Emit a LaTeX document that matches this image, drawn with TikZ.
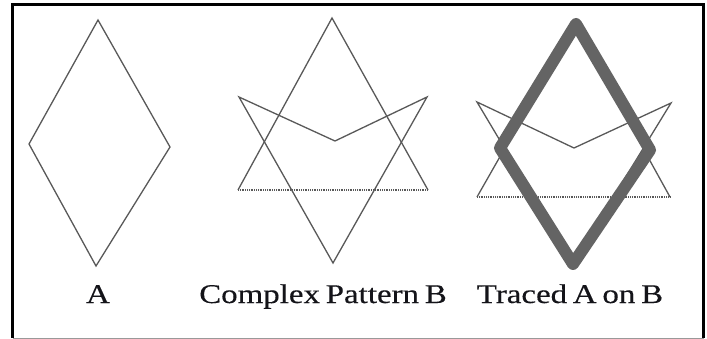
\documentclass[tikz,border=0pt]{standalone}
\usepackage{fontspec}
\setmainfont[FakeStretch=1.22,FakeBold=0.3,WordSpace={0.7}]{Liberation Serif}
\begin{document}
\begin{tikzpicture}[x=1pt,y=-1pt,
  thin line/.style={draw=black!65,line width=1.3pt,line join=miter},
  base line/.style={draw=black!65,line width=1.5pt,dash pattern=on 1pt off 0.8pt},
  traced/.style={draw={rgb,255:red,100;green,100;blue,100},line width=12pt,line join=round},
  caption/.style={anchor=base,inner sep=0pt,font=\fontsize{27}{30}\selectfont,text={rgb,255:red,20;green,20;blue,25}}]
\useasboundingbox (0,0) rectangle (707,339);
\fill[white] (0,0) rectangle (707,339);
% frame
\draw[black,line width=3pt] (12.5,338) -- (12.5,4.5) -- (703.5,4.5) -- (703.5,338);
\draw[black!40,line width=1pt] (12.5,338) -- (703.5,338);
% Figure A
\coordinate (at) at (98,20);
\coordinate (al) at (29,144);
\coordinate (ar) at (170,147);
\coordinate (ab) at (96,266);
\draw[thin line] (at) -- (ar) -- (ab) -- (al) -- cycle;
% Figure B
\coordinate (bt) at (332,18);
\coordinate (bbl) at (238,190);
\coordinate (bbr) at (428,190);
\coordinate (bul) at (239,97);
\coordinate (bur) at (427,97);
\coordinate (bv) at (335,141);
\coordinate (bb) at (333,263);
\draw[thin line] (bbl) -- (bt) -- (bbr);
\draw[base line] (bbl) -- (bbr);
\draw[thin line] (bul) -- (bv) -- (bur) -- (bb) -- cycle;
% Figure C
\coordinate (ct) at (575,25);
\coordinate (cbl) at (477,197);
\coordinate (cbr) at (670,197);
\coordinate (cul) at (477,102);
\coordinate (cur) at (671,103);
\coordinate (cv) at (574,148);
\coordinate (cb) at (573,263);
\draw[thin line] (cbl) -- (ct) -- (cbr);
\draw[base line] (cbl) -- (cbr);
\draw[thin line] (cul) -- (cv) -- (cur) -- (cb) -- cycle;
\coordinate (dt) at (576,24);
\coordinate (dl) at (500,148);
\coordinate (dr) at (650,150);
\coordinate (db) at (573,264);
\draw[traced] (dt) -- (dr) -- (db) -- (dl) -- cycle;
% captions
\node[caption] (la) at (98,303) {A};
\node[caption] (lb) at (323,303) {Complex Pattern B};
\node[caption] (lc) at (570,303) {Traced A on B};
\end{tikzpicture}
\end{document}
